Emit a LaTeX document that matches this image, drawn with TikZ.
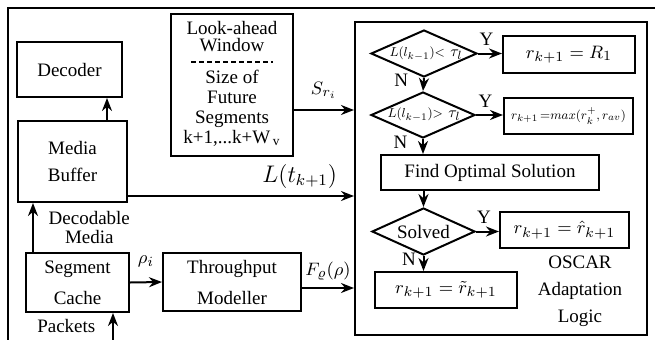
\documentclass[tikz,border=0pt]{standalone}
\usepackage{graphicx}
\usepackage{fontspec}
\setmainfont{Liberation Serif}
\usetikzlibrary{shapes.geometric, arrows.meta}

\begin{document}
\begin{tikzpicture}[->, >={Stealth[length=6.5pt, width=5pt]}, x=0.5pt, y=-0.5pt, line width=1pt,
	font=\fontsize{9.5}{11}\selectfont,
	block/.style={draw, rectangle, inner sep=0pt, align=center},
	cond/.style={draw, diamond, inner sep=0pt}]

	\useasboundingbox (0,0) rectangle (655,339);

	% draw outer frame
	\draw[-] (8,350) -- (8,8) -- (665,8);

	% draw player blocks
	\node[block, minimum width=52.5pt, minimum height=27.5pt] (dec) at (69.5,69.5) {Decoder};
	\node[block, minimum width=54.5pt, minimum height=40.5pt] (buf) at (72.5,161.5) {Media\\[2.5pt]Buffer};
	\node[block, minimum width=51.5pt, minimum height=29.5pt] (cache) at (77.5,282.5) {Segment\\[4.5pt]Cache};
	\node[block, minimum width=69pt, minimum height=29pt] (thr) at (232,282) {Throughput\\[4.5pt]Modeller};

	% draw look-ahead window
	\node[block, minimum width=61pt, minimum height=71pt] (look) at (232,85) {};
	\node[align=center, font=\fontsize{9.5}{8.5}\selectfont] (look_t) at (232,36.5) {Look-ahead\\Window};
	\draw[-, dash pattern=on 2.5pt off 1.5pt] (191,62) -- (273,62);
	\node[align=center, font=\fontsize{9.5}{10}\selectfont] (look_b) at (232,108) {Size of\\Future\\Segments\\k+1,...k+W$_{\,\mathrm{v}}$};

	% draw adaptation logic
	\node[block, minimum width=146pt, minimum height=156.5pt] (oscar) at (501,178.5) {};
	\foreach \n/\x/\y/\w/\h in {d1/424/53.5/53/23.5, d2/423/115/52/23, d3/423.5/231.5/51.5/23.5}
	{
		\node[cond, minimum width=\w pt, minimum height=\h pt] (\n) at (\x,\y) {};
	}
	\node[inner sep=0pt] (d1_t) at ([xshift=1pt]d1) {\scalebox{0.72}{$L(l_{k-1}){<}$}\;\scalebox{0.85}{$\tau_l$}};
	\node[inner sep=0pt] (d2_t) at ([xshift=0.5pt]d2) {\scalebox{0.72}{$L(l_{k-1}){>}$}\;\scalebox{0.85}{$\tau_l$}};
	\node[inner sep=0pt] (d3_t) at (d3) {Solved};

	\node[block, minimum width=66pt, minimum height=18.5pt] (r1) at (569,54.5) {$r_{k+1} = R_1$};
	\node[block, minimum width=64.5pt, minimum height=18pt] (rmax) at (568.5,116) {\scalebox{0.7}{$r_{k+1}\,{=}max(r_k^+,r_{av})$}};
	\node[block, minimum width=109pt, minimum height=17.5pt] (opt) at (490,172.5) {Find Optimal Solution};
	\node[block, minimum width=64.5pt, minimum height=18pt] (rhat) at (564.5,230) {$r_{k+1} = \hat{r}_{k+1}$};
	\node[block, minimum width=71pt, minimum height=18pt] (rtil) at (446,290) {$r_{k+1} = \tilde{r}_{k+1}$};
	\node[align=center, font=\fontsize{9.5}{13.5}\selectfont] (oscar_t) at (580,291) {OSCAR\\Adaptation\\Logic};

	% draw player edges
	\path ([xshift=17.25pt]buf.north) edge ([xshift=17.25pt]buf.north |- dec.south);
	\path ([xshift=-22.25pt]cache.north) edge node[midway, right=4pt, align=center, font=\fontsize{9.5}{9.5}\selectfont] (dm) {Decodable\\Media} ([xshift=-22.25pt]cache.north |- buf.south);
	\coordinate (pk) at (113,345);
	\path (pk) edge node[pos=0.6, left=5pt] (pk_t) {Packets} (pk |- cache.south);
	\path (cache.east) edge node[midway, above=4pt] (rho) {$\rho_i$} (thr.west);

	% draw inputs of adaptation logic
	\path ([yshift=-12.5pt]look.east) edge node[midway, above=2pt] (sri) {$S_{r_i}$} ([yshift=-12.5pt]look.east -| oscar.west);
	\path ([yshift=-17.25pt]buf.east) edge node[pos=0.76, above, font=\fontsize{11.5}{13}\selectfont] (lt) {$L(t_{k+1})$} ([yshift=-17.25pt]buf.east -| oscar.west);
	\path ([yshift=-3pt]thr.east) edge node[midway, above] (frho) {$F_\varrho(\rho)$} ([yshift=-3pt]thr.east -| oscar.west);

	% draw decision edges
	\foreach \d/\r in {d1/r1, d2/rmax, d3/rhat}
	{
		\path (\d.east) edge node[pos=0.35, above] (y_\d) {Y} (\d.east -| \r.west);
	}
	\path (d1.south) edge node[pos=0.2, left=4pt] (n_d1) {N} (d2.north);
	\path (d2.south) edge node[pos=0.2, left=4pt] (n_d2) {N} (d2.south |- opt.north);
	\path (opt.south -| d3.north) edge (d3.north);
	\path (d3.south) edge node[pos=0.2, left] (n_d3) {N} (d3.south |- rtil.north);

\end{tikzpicture}
\end{document}
